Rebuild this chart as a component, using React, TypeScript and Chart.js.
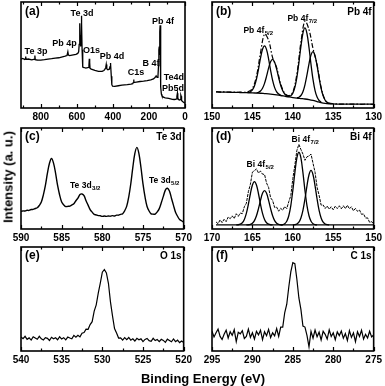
import React, { useEffect, useRef } from "react";
import { Chart, registerables } from "chart.js";

Chart.register(...registerables);

// ---------------- (a) survey ----------------
const surveyEnergy = [
  910, 900, 890, 886, 884, 882, 870, 850, 840, 835,
  833, 831, 820, 800, 780, 760, 740, 720, 700, 680,
  665, 655, 650, 647, 640, 620, 605, 595, 590, 587,
  585, 583, 581, 579, 577, 575, 573, 571, 569, 566,
  560, 550, 540, 535, 533, 531, 529, 527, 520, 500,
  480, 460, 450, 445, 440, 437, 435, 433, 428, 420,
  416, 414, 412, 409, 406, 402, 390, 370, 350, 320,
  300, 290, 287, 285, 283, 270, 250, 230, 210, 190,
  175, 168, 163, 160, 155, 150, 147, 145, 143, 141,
  139, 138, 136, 134, 131, 128, 120, 110, 100, 90,
  80, 70, 60, 52, 47, 45, 42, 40, 37, 30,
  25, 23, 21, 19, 15, 10, 5, 2, 0,
];
const surveyIntensity = [
  46, 46.8, 45.8, 46.5, 48.5, 45.9, 46.2, 45.4, 45.8, 45.9,
  49.5, 45.6, 45.3, 45.2, 45.6, 46.1, 46.5, 47.1, 47.4, 48.3,
  48.9, 49.5, 53, 50, 49.4, 50.1, 50.6, 51.5, 53, 60,
  74, 80, 66, 58, 68, 87, 80, 55, 40, 38.6,
  38.2, 37.6, 38, 38.4, 40, 46.5, 43, 37.4, 36.6, 35.4,
  34.6, 34.5, 35.4, 36.4, 38, 41, 40.5, 37, 36, 36.6,
  39, 42.5, 41.5, 30, 22, 20.6, 20.4, 21, 21.5, 22,
  22.6, 23, 24, 27, 24, 24.5, 25, 25.4, 25.9, 26.5,
  27.4, 28.5, 29.5, 30.2, 29, 30, 40, 55, 58, 50,
  72, 78, 45, 20, 13, 11.5, 10.2, 9.6, 9.4, 9,
  8.6, 8.2, 8, 8.1, 8.6, 11, 14, 10, 8, 7.6,
  8, 12, 11, 7, 6.4, 5.6, 5, 5, 4.6,
];

// ---------------- (b) Pb 4f ----------------
const pbEnergy = [
  149.5, 149, 148.5, 148, 147.5, 147, 146.5, 146, 145.5, 145,
  144.5, 144, 143.5, 143, 142.5, 142, 141.5, 141, 140.5, 140,
  139.5, 139, 138.5, 138, 137.5, 137, 136.5, 136, 135.5, 135,
  134.5, 134, 133.5, 133, 132.5, 132, 131.5, 131, 130.5, 130,
];
const pbData = [
  15.3, 15.0, 15.2, 14.9, 15.1, 14.8, 14.9, 14.8, 15.6, 18.5,
  30, 52, 69.5, 64, 47.5, 38, 22.5, 14, 11.6, 15.0,
  32, 62, 82, 74, 56, 41, 19.5, 7.5, 4.6, 4.0,
  3.8, 3.7, 3.7, 3.6, 3.7, 3.6, 3.5, 3.6, 3.5, 3.5,
];
const pbBackground = [
  15.2, 15.1, 15.0, 14.9, 14.8, 14.7, 14.6, 14.5, 14.4, 14.3,
  14.1, 13.9, 13.6, 13.3, 12.9, 12.4, 11.8, 11.1, 10.4, 9.8,
  9.3, 8.9, 8.5, 7.9, 7.1, 6.1, 5.1, 4.4, 4.0, 3.8,
  3.7, 3.6, 3.6, 3.6, 3.6, 3.6, 3.6, 3.6, 3.6, 3.6,
];
const pbFit1Energy = [145.5, 145.25, 145, 144.75, 144.5, 144.25, 144, 143.75, 143.5, 143.25, 143, 142.75, 142.5, 142.25, 142, 141.75, 141.5];
const pbFit1 = [14.7, 15.4, 17.1, 20.8, 27.2, 36.5, 47.0, 55.4, 58.6, 55.1, 46.4, 35.6, 26.0, 19.2, 15.2, 13.1, 12.1];
const pbFit2Energy = [144.5, 144.25, 144, 143.75, 143.5, 143.25, 143, 142.75, 142.5, 142.25, 142, 141.75, 141.5, 141.25, 141, 140.75, 140.5];
const pbFit2 = [14.3, 14.8, 16.0, 18.6, 23.2, 30.0, 37.6, 43.7, 45.9, 43.2, 36.7, 28.6, 21.4, 16.3, 13.2, 11.5, 10.6];
const pbFit3Energy = [140.5, 140.25, 140, 139.75, 139.5, 139.25, 139, 138.75, 138.5, 138.25, 138, 137.75, 137.5, 137.25, 137, 136.75, 136.5];
const pbFit3 = [10.9, 11.6, 14.0, 19.4, 28.9, 42.6, 58.1, 70.7, 75.5, 70.2, 57.1, 41.0, 26.7, 16.4, 10.3, 7.1, 5.6];
const pbFit4Energy = [139.5, 139.25, 139, 138.75, 138.5, 138.25, 138, 137.75, 137.5, 137.25, 137, 136.75, 136.5, 136.25, 136, 135.75, 135.5];
const pbFit4 = [9.6, 10.2, 11.8, 15.4, 21.9, 31.2, 41.7, 50.1, 53.1, 49.2, 39.9, 28.6, 18.5, 11.5, 7.3, 5.3, 4.3];

// ---------------- (c) Te 3d ----------------
const teEnergy = [
  590, 589.75, 589.5, 589.25, 589, 588.75, 588.5, 588.25, 588, 587.75,
  587.5, 587.25, 587, 586.75, 586.5, 586.25, 586, 585.75, 585.5, 585.25,
  585, 584.75, 584.5, 584.25, 584, 583.75, 583.5, 583.25, 583, 582.75,
  582.5, 582.25, 582, 581.75, 581.5, 581.25, 581, 580.75, 580.5, 580.25,
  580, 579.75, 579.5, 579.25, 579, 578.75, 578.5, 578.25, 578, 577.75,
  577.5, 577.25, 577, 576.75, 576.5, 576.25, 576, 575.75, 575.5, 575.25,
  575, 574.75, 574.5, 574.25, 574, 573.75, 573.5, 573.25, 573, 572.75,
  572.5, 572.25, 572, 571.75, 571.5, 571.25, 571, 570.75, 570.5, 570.25,
  570,
];
const teData = [
  17.4, 17.9, 17.8, 18.5, 18.4, 19.3, 19.4, 20.3, 21.0, 23.3,
  26.7, 33.8, 43.2, 55.3, 65.1, 69.8, 65.2, 55.3, 43.1, 33.7,
  26.7, 23.9, 22.2, 22.4, 22.7, 23.8, 25.0, 28.0, 30.6, 34.1,
  34.7, 33.1, 27.9, 23.6, 19.2, 16.7, 14.5, 13.9, 13.3, 13.1,
  12.5, 12.8, 12.5, 12.9, 12.7, 13.2, 12.9, 13.7, 13.7, 14.5,
  15.2, 18.1, 22.6, 31.9, 44.8, 61.0, 74.8, 80.8, 74.6, 60.9,
  44.6, 31.7, 22.3, 17.8, 15.0, 14.7, 14.8, 16.9, 20.2, 26.0,
  32.3, 38.5, 40.3, 37.6, 30.5, 23.4, 16.6, 12.6, 9.4, 8.2,
  6.8,
];

// ---------------- (d) Bi 4f ----------------
const biEnergy = [
  169.5, 169.25, 169, 168.75, 168.5, 168.25, 168, 167.75, 167.5, 167.25,
  167, 166.75, 166.5, 166.25, 166, 165.75, 165.5, 165.25, 165, 164.75,
  164.5, 164.25, 164, 163.75, 163.5, 163.25, 163, 162.75, 162.5, 162.25,
  162, 161.75, 161.5, 161.25, 161, 160.75, 160.5, 160.25, 160, 159.75,
  159.5, 159.25, 159, 158.75, 158.5, 158.25, 158, 157.75, 157.5, 157.25,
  157, 156.75, 156.5, 156.25, 156, 155.75, 155.5, 155.25, 155, 154.75,
  154.5, 154.25, 154, 153.75, 153.5, 153.25, 153, 152.75, 152.5, 152.25,
  152, 151.75, 151.5, 151.25, 151, 150.75, 150.5, 150.25, 150,
];
const biData = [
  7.0, 5.2, 9.0, 6.3, 9.7, 7.3, 11.8, 10.2, 13.0, 10.4,
  15.1, 12.5, 15.8, 15.2, 22.0, 25.5, 37.0, 44.3, 56.3, 57.8,
  59.5, 55.5, 57.3, 54.3, 54.0, 45.5, 41.2, 30.9, 28.2, 21.3,
  21.7, 17.6, 20.5, 18.6, 22.3, 20.2, 27.1, 33.0, 49.9, 63.1,
  77.8, 83.8, 78.7, 74.2, 68.0, 71.5, 72.3, 74.2, 65.0, 56.2,
  41.3, 33.4, 23.6, 23.8, 20.3, 22.8, 19.6, 22.0, 19.0, 22.6,
  20.2, 23.0, 20.0, 23.0, 20.2, 23.5, 20.0, 22.0, 18.0, 20.4,
  17.5, 18.8, 14.5, 15.0, 10.8, 11.0, 6.5, 7.3, 5.0,
];
const biBaseEnergy = [169.5, 150];
const biBase = [4, 4];
const biFit1Energy = [167, 166.75, 166.5, 166.25, 166, 165.75, 165.5, 165.25, 165, 164.75, 164.5, 164.25, 164, 163.75, 163.5, 163.25, 163, 162.75, 162.5];
const biFit1 = [4.06, 4.2, 4.76, 6.2, 9.5, 15.5, 24.5, 34.9, 43.6, 47, 43.6, 34.9, 24.5, 15.5, 9.5, 6.2, 4.76, 4.2, 4.06];
const biFit2Energy = [165.75, 165.5, 165.25, 165, 164.75, 164.5, 164.25, 164, 163.75, 163.5, 163.25, 163, 162.75, 162.5, 162.25, 162, 161.75, 161.5, 161.25];
const biFit2 = [4.04, 4.17, 4.6, 5.73, 8.3, 13.1, 20.2, 28.4, 35.3, 38, 35.3, 28.4, 20.2, 13.1, 8.3, 5.73, 4.6, 4.17, 4.04];
const biFit3Energy = [161.5, 161.25, 161, 160.75, 160.5, 160.25, 160, 159.75, 159.5, 159.25, 159, 158.75, 158.5, 158.25, 158, 157.75, 157.5, 157.25, 157];
const biFit3 = [4.09, 4.37, 5.27, 7.67, 13.1, 23.2, 38.3, 55.8, 70.3, 76, 70.3, 55.8, 38.3, 23.2, 13.1, 7.67, 5.27, 4.37, 4.09];
const biFit4Energy = [160, 159.75, 159.5, 159.25, 159, 158.75, 158.5, 158.25, 158, 157.75, 157.5, 157.25, 157, 156.75, 156.5, 156.25, 156, 155.75, 155.5];
const biFit4 = [4.07, 4.28, 4.95, 6.75, 10.9, 18.4, 29.7, 42.8, 53.7, 58, 53.7, 42.8, 29.7, 18.4, 10.9, 6.75, 4.95, 4.28, 4.07];

// ---------------- (e) O 1s ----------------
const oEnergy = [
  540, 539.75, 539.5, 539.25, 539, 538.75, 538.5, 538.25, 538, 537.75,
  537.5, 537.25, 537, 536.75, 536.5, 536.25, 536, 535.75, 535.5, 535.25,
  535, 534.75, 534.5, 534.25, 534, 533.75, 533.5, 533.25, 533, 532.75,
  532.5, 532.25, 532, 531.75, 531.5, 531.25, 531, 530.75, 530.5, 530.25,
  530, 529.75, 529.5, 529.25, 529, 528.75, 528.5, 528.25, 528, 527.75,
  527.5, 527.25, 527, 526.75, 526.5, 526.25, 526, 525.75, 525.5, 525.25,
  525, 524.75, 524.5, 524.25, 524, 523.75, 523.5, 523.25, 523, 522.75,
  522.5, 522.25, 522, 521.75, 521.5, 521.25, 521, 520.75, 520.5, 520.25,
  520,
];
const oData = [
  13.5, 11.8, 14.1, 11.2, 12.6, 10.5, 13.7, 12.5, 11.3, 14.1,
  11.7, 10.6, 12.9, 12.2, 10.1, 13.2, 11.8, 12.7, 10.8, 13.7,
  11.5, 12.8, 10.7, 13.4, 12.5, 11.8, 15.0, 13.3, 15.1, 13.6,
  17.1, 17.8, 21.0, 20.9, 25.4, 28.2, 38.3, 44.4, 55.6, 65.2,
  75.8, 78.4, 75.1, 65.1, 47.3, 33.7, 21.6, 17.4, 12.5, 12.7,
  10.4, 12.8, 10.9, 13.0, 10.4, 11.7, 9.6, 12.2, 10.8, 11.7,
  9.0, 11.1, 12.1, 9.9, 9.4, 12.2, 10.0, 11.0, 9.0, 11.3,
  10.2, 8.3, 11.4, 10.2, 8.9, 11.6, 9.0, 10.4, 8.1, 9.6,
  8.2,
];

// ---------------- (f) C 1s ----------------
const cEnergy = [
  295, 294.75, 294.5, 294.25, 294, 293.75, 293.5, 293.25, 293, 292.75,
  292.5, 292.25, 292, 291.75, 291.5, 291.25, 291, 290.75, 290.5, 290.25,
  290, 289.75, 289.5, 289.25, 289, 288.75, 288.5, 288.25, 288, 287.75,
  287.5, 287.25, 287, 286.75, 286.5, 286.25, 286, 285.75, 285.5, 285.25,
  285, 284.75, 284.5, 284.25, 284, 283.75, 283.5, 283.25, 283, 282.75,
  282.5, 282.25, 282, 281.75, 281.5, 281.25, 281, 280.75, 280.5, 280.25,
  280, 279.75, 279.5, 279.25, 279, 278.75, 278.5, 278.25, 278, 277.75,
  277.5, 277.25, 277, 276.75, 276.5, 276.25, 276, 275.75, 275.5, 275.25,
  275,
];
const cData = [
  19, 13.5, 17.5, 21, 14, 11, 16, 20, 12.5, 18.5,
  15, 20.5, 9, 18, 16.5, 19.5, 12, 14, 21, 13,
  17.5, 11.5, 19, 15.5, 20, 11, 18.5, 14.7, 20.8, 12.9,
  17.5, 14.5, 21.5, 14, 23, 23, 37, 45, 61.5, 76,
  85, 84, 69, 51, 40, 24, 23, 15, 4, 18.8,
  12.3, 20.2, 13.7, 18.1, 10.6, 19, 16, 11.5, 20.4, 13.9,
  17.4, 10.8, 18.3, 14.8, 19.2, 12.2, 16.7, 10.1, 19.6, 13.1,
  17.5, 9, 18.5, 14, 20, 11.5, 16, 12.5, 19, 13.5,
  15.5,
];

// ---------------- layout / styling ----------------
const FONT = "'Liberation Sans', Arial, Helvetica, sans-serif";
const PAD_L = 12;
const PAD_R = 10;
const PAD_T = 3;
const AX_H = 18;

type Series = { x: number[]; y: number[]; width: number; dash?: number[]; smooth?: boolean };
type Ann = { t: string; s?: string; x: number; y: number; a: "left" | "center" | "right"; f: number };
type Panel = {
  id: string; left: number; top: number; w: number; h: number;
  min: number; max: number; step: number; series: Series[]; anns: Ann[];
};

const COL1 = { left: 21, w: 164 };
const COL2 = { left: 212, w: 163 };
const ROW1 = { top: 2, h: 106 };
const ROW2 = { top: 128, h: 101 };
const ROW3 = { top: 247, h: 104 };

const panels: Panel[] = [
  {
    id: "a", left: COL1.left, w: COL1.w, top: ROW1.top, h: ROW1.h, min: 0, max: 910, step: 200,
    series: [{ x: surveyEnergy, y: surveyIntensity, width: 1.3 }],
    anns: [
      { t: "(a)", x: 4, y: 10, a: "left", f: 12 },
      { t: "Te 3d", x: 61, y: 12, a: "center", f: 9 },
      { t: "Pb 4f", x: 142, y: 20, a: "center", f: 9 },
      { t: "Te 3p", x: 15, y: 50, a: "center", f: 9 },
      { t: "Pb 4p", x: 43.5, y: 42, a: "center", f: 9 },
      { t: "O1s", x: 70.5, y: 49, a: "center", f: 9 },
      { t: "Pb 4d", x: 91, y: 55, a: "center", f: 9 },
      { t: "C1s", x: 115, y: 71, a: "center", f: 9 },
      { t: "B 4f", x: 130, y: 62, a: "center", f: 9 },
      { t: "Te4d", x: 1, y: 76, a: "right", f: 9 },
      { t: "Pb5d", x: 1, y: 87, a: "right", f: 9 },
    ],
  },
  {
    id: "b", left: COL2.left, w: COL2.w, top: ROW1.top, h: ROW1.h, min: 130, max: 150, step: 5,
    series: [
      { x: pbEnergy, y: pbBackground, width: 1.3, smooth: true },
      { x: pbFit1Energy, y: pbFit1, width: 1.3, smooth: true },
      { x: pbFit2Energy, y: pbFit2, width: 1.3, smooth: true },
      { x: pbFit3Energy, y: pbFit3, width: 1.3, smooth: true },
      { x: pbFit4Energy, y: pbFit4, width: 1.3, smooth: true },
      { x: pbEnergy, y: pbData, width: 1.2, dash: [5, 2, 1.5, 2], smooth: true },
    ],
    anns: [
      { t: "(b)", x: 4, y: 10, a: "left", f: 12 },
      { t: "Pb 4f", x: 2, y: 10, a: "right", f: 10 },
      { t: "Pb 4f", s: "5/2", x: 46, y: 29, a: "center", f: 8.5 },
      { t: "Pb 4f", s: "7/2", x: 90, y: 17, a: "center", f: 8.5 },
    ],
  },
  {
    id: "c", left: COL1.left, w: COL1.w, top: ROW2.top, h: ROW2.h, min: 570, max: 590, step: 5,
    series: [{ x: teEnergy, y: teData, width: 1.4, smooth: true }],
    anns: [
      { t: "(c)", x: 4, y: 9, a: "left", f: 12 },
      { t: "Te 3d", x: 2, y: 9, a: "right", f: 10 },
      { t: "Te 3d", s: "3/2", x: 64, y: 58, a: "center", f: 8.5 },
      { t: "Te 3d", s: "5/2", x: 143, y: 53, a: "center", f: 8.5 },
    ],
  },
  {
    id: "d", left: COL2.left, w: COL2.w, top: ROW2.top, h: ROW2.h, min: 150, max: 170, step: 5,
    series: [
      { x: biBaseEnergy, y: biBase, width: 1.3 },
      { x: biFit1Energy, y: biFit1, width: 1.3, smooth: true },
      { x: biFit2Energy, y: biFit2, width: 1.3, smooth: true },
      { x: biFit3Energy, y: biFit3, width: 1.3, smooth: true },
      { x: biFit4Energy, y: biFit4, width: 1.3, smooth: true },
      { x: biEnergy, y: biData, width: 1, dash: [3, 1] },
    ],
    anns: [
      { t: "(d)", x: 4, y: 9, a: "left", f: 12 },
      { t: "Bi 4f", x: 2, y: 9, a: "right", f: 10 },
      { t: "Bi 4f", s: "5/2", x: 48, y: 37, a: "center", f: 8.5 },
      { t: "Bi 4f", s: "7/2", x: 93, y: 12, a: "center", f: 8.5 },
    ],
  },
  {
    id: "e", left: COL1.left, w: COL1.w, top: ROW3.top, h: ROW3.h, min: 520, max: 540, step: 5,
    series: [{ x: oEnergy, y: oData, width: 1.2 }],
    anns: [
      { t: "(e)", x: 4, y: 9, a: "left", f: 12 },
      { t: "O 1s", x: 2, y: 9, a: "right", f: 10 },
    ],
  },
  {
    id: "f", left: COL2.left, w: COL2.w, top: ROW3.top, h: ROW3.h, min: 275, max: 295, step: 5,
    series: [{ x: cEnergy, y: cData, width: 1.2 }],
    anns: [
      { t: "(f)", x: 4, y: 9, a: "left", f: 12 },
      { t: "C 1s", x: 2, y: 9, a: "right", f: 10 },
    ],
  },
];

function drawAnn(ctx: CanvasRenderingContext2D, area: any, ann: Ann) {
  const mainFont = `bold ${ann.f}px ${FONT}`;
  const subSize = Math.round(ann.f * 0.7);
  const subFont = `bold ${subSize}px ${FONT}`;
  ctx.font = mainFont;
  const w1 = ctx.measureText(ann.t).width;
  let w2 = 0;
  if (ann.s) {
    ctx.font = subFont;
    w2 = ctx.measureText(ann.s).width;
  }
  const total = w1 + w2;
  let x0 = area.left + ann.x;
  if (ann.a === "center") x0 -= total / 2;
  if (ann.a === "right") x0 = area.right - ann.x - total;
  const y = area.top + ann.y;
  ctx.fillStyle = "#000";
  ctx.textAlign = "left";
  ctx.textBaseline = "middle";
  ctx.font = mainFont;
  ctx.fillText(ann.t, x0, y);
  if (ann.s) {
    ctx.font = subFont;
    ctx.fillText(ann.s, x0 + w1 + 0.5, y + ann.f * 0.3);
  }
}

function makeFrame(p: Panel) {
  return {
    id: "frame_" + p.id,
    afterDraw(chart: any) {
      const ctx: CanvasRenderingContext2D = chart.ctx;
      const a = chart.chartArea;
      const xs = chart.scales.x;
      ctx.save();
      ctx.strokeStyle = "#000";
      ctx.lineWidth = 1.2;
      const values: number[] = xs.ticks.map((t: any) => t.value);
      ctx.beginPath();
      values.forEach((v) => {
        const px = Math.round(xs.getPixelForValue(v)) + 0.5;
        ctx.moveTo(px, a.bottom);
        ctx.lineTo(px, a.bottom - 4);
        ctx.moveTo(px, a.top);
        ctx.lineTo(px, a.top + 4);
        [v - p.step / 2, v + p.step / 2].forEach((m) => {
          if (m > p.min && m < p.max && !values.includes(m)) {
            const mx = Math.round(xs.getPixelForValue(m)) + 0.5;
            ctx.moveTo(mx, a.bottom);
            ctx.lineTo(mx, a.bottom - 2.5);
            ctx.moveTo(mx, a.top);
            ctx.lineTo(mx, a.top + 2.5);
          }
        });
      });
      ctx.stroke();
      ctx.lineWidth = 1.6;
      ctx.strokeRect(a.left, a.top, a.right - a.left, a.bottom - a.top);
      p.anns.forEach((ann) => drawAnn(ctx, a, ann));
      ctx.restore();
    },
  };
}

function PanelChart({ p }: { p: Panel }) {
  const ref = useRef<HTMLCanvasElement>(null);
  const cw = p.w + PAD_L + PAD_R;
  const ch = p.h + PAD_T + AX_H;
  useEffect(() => {
    const canvas = ref.current;
    if (!canvas) return;
    const chart = new Chart(canvas, {
      type: "line",
      data: {
        datasets: p.series.map((s) => ({
          data: s.x.map((x, i) => ({ x, y: s.y[i] })),
          borderColor: "#000",
          backgroundColor: "#000",
          borderWidth: s.width,
          borderDash: s.dash || [],
          pointRadius: 0,
          fill: false,
          tension: s.smooth ? 0.35 : 0,
        })),
      },
      options: {
        responsive: false,
        animation: false,
        devicePixelRatio: 1,
        layout: { padding: { left: PAD_L, right: PAD_R, top: PAD_T, bottom: 0 } },
        plugins: { legend: { display: false }, tooltip: { enabled: false } },
        scales: {
          x: {
            type: "linear",
            reverse: true,
            min: p.min,
            max: p.max,
            grid: { display: false, drawTicks: false, tickLength: 0 },
            border: { display: false },
            ticks: {
              stepSize: p.step,
              includeBounds: false,
              autoSkip: false,
              maxRotation: 0,
              padding: 3,
              color: "#000",
              font: { family: FONT, size: 10, weight: "bold" },
            },
            afterFit: (scale: any) => {
              scale.height = AX_H;
            },
          },
          y: { display: false, min: 0, max: 100 },
        },
      } as any,
      plugins: [makeFrame(p)],
    });
    return () => chart.destroy();
  }, [p]);
  return (
    <canvas
      ref={ref}
      width={cw}
      height={ch}
      style={{ position: "absolute", left: p.left - PAD_L, top: p.top - PAD_T, width: cw, height: ch }}
    />
  );
}

export default function App() {
  return (
    <div
      style={{
        position: "absolute",
        left: 0,
        top: 0,
        width: 385,
        height: 386,
        overflow: "hidden",
        background: "#fff",
      }}
    >
      {panels.map((p) => (
        <PanelChart key={p.id} p={p} />
      ))}
      <div
        style={{
          position: "absolute",
          left: 8,
          top: 177,
          transform: "translate(-50%, -50%) rotate(-90deg)",
          font: `bold 13px ${FONT}`,
          lineHeight: "1",
          whiteSpace: "nowrap",
          color: "#000",
        }}
      >
        Intensity (a. u.)
      </div>
      <div
        style={{
          position: "absolute",
          left: 203,
          top: 378,
          transform: "translate(-50%, -50%)",
          font: `bold 13px ${FONT}`,
          lineHeight: "1",
          whiteSpace: "nowrap",
          color: "#000",
        }}
      >
        Binding Energy (eV)
      </div>
    </div>
  );
}
